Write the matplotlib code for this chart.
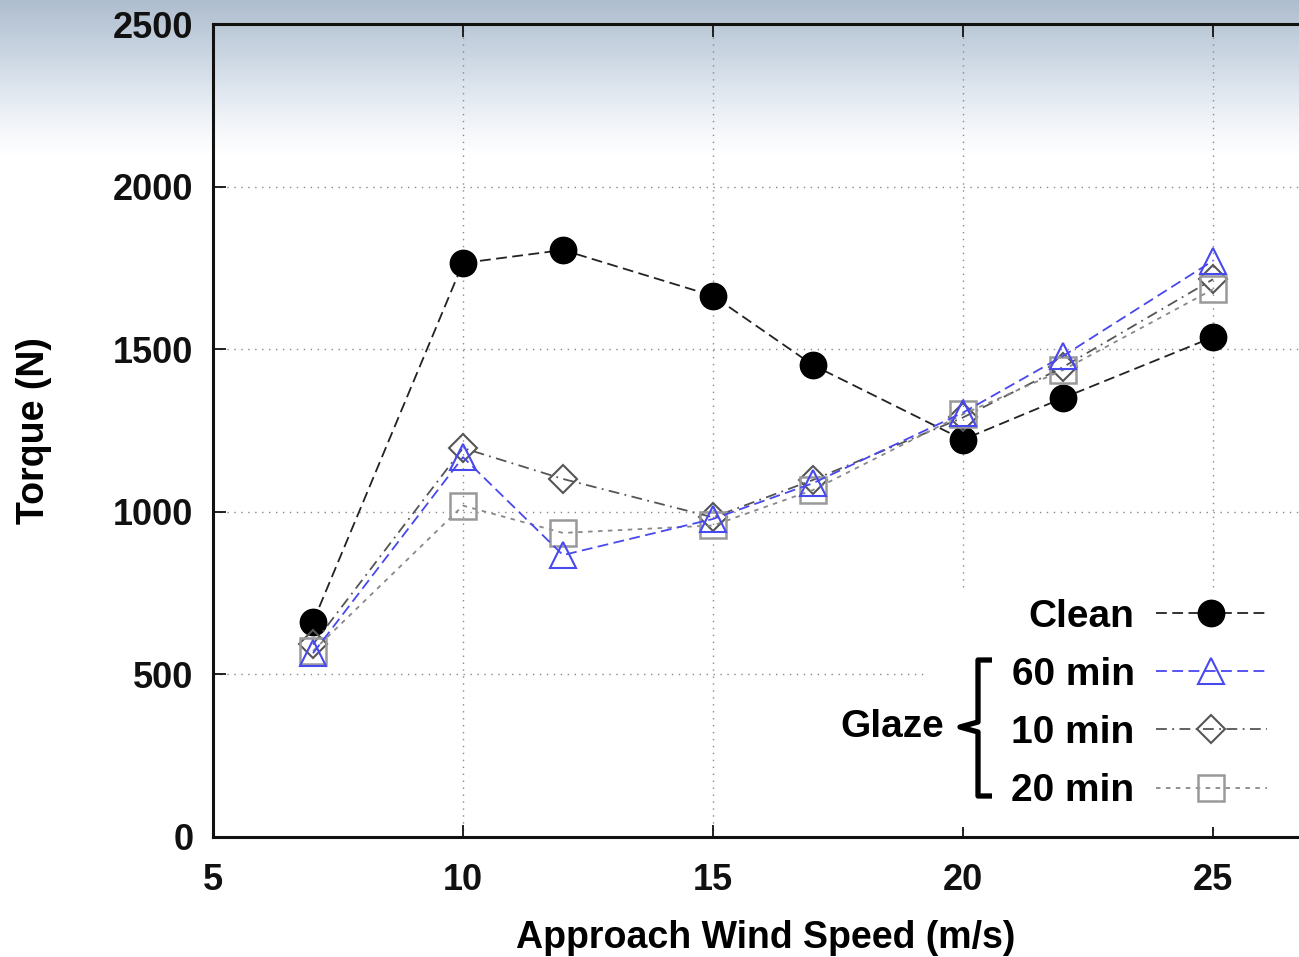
import matplotlib
matplotlib.use('Agg')
import matplotlib.pyplot as plt
import numpy as np
from matplotlib.colors import LinearSegmentedColormap
from matplotlib.lines import Line2D
from matplotlib.patches import Rectangle

# Torque vs approach wind speed, clean blade and three glaze-ice durations
speeds = [7, 10, 12, 15, 17, 20, 22, 25]
clean = [661, 1765, 1805, 1664, 1451, 1222, 1350, 1537]
glaze_60 = [565, 1168, 867, 978, 1088, 1305, 1479, 1772]
glaze_10 = [592, 1196, 1101, 983, 1098, 1290, 1445, 1715]
glaze_20 = [572, 1019, 935, 958, 1067, 1300, 1436, 1684]

x_ticks = [5, 10, 15, 20, 25]
y_ticks = [0, 500, 1000, 1500, 2000, 2500]

plt.rcParams['font.family'] = ['Liberation Sans', 'DejaVu Sans']
plt.rcParams['font.weight'] = 'bold'

W, H = 1299, 957
fig = plt.figure(figsize=(W / 100, H / 100), dpi=100)
fig.patch.set_facecolor('white')

# slide background: bluish band fading to white at the top
bg = fig.add_axes([0, 0, 1, 1], zorder=-10)
bg.axis('off')
grad = LinearSegmentedColormap.from_list(
    'band', [(0.0, '#aebdce'), (0.45, '#d3dde8'), (0.75, '#eef2f7'), (1.0, '#ffffff')])
ramp = np.linspace(0, 1, 256).reshape(-1, 1)
bg.imshow(ramp, cmap=grad, aspect='auto', extent=[0, 1, 1 - 155 / H, 1], origin='upper')
bg.set_xlim(0, 1)
bg.set_ylim(0, 1)

# plot box runs past the right edge of the page (x up to 27)
ax = fig.add_axes([213 / W, 120 / H, 1100 / W, 813 / H])
ax.patch.set_alpha(0)
ax.set_xlim(5, 27)
ax.set_ylim(0, 2500)
ax.set_xticks(x_ticks)
ax.set_yticks(y_ticks)
ax.set_axisbelow(True)
ax.grid(True, linestyle=(0, (1, 4)), color='#888888', linewidth=1.0)
for side in ['left', 'bottom', 'top']:
    ax.spines[side].set_linewidth(2.2)
    ax.spines[side].set_color('#111111')
ax.spines['right'].set_visible(False)
ax.tick_params(axis='both', direction='in', length=9, width=1.3, labelsize=26, colors='#111111')
ax.tick_params(axis='x', top=True, pad=19)
ax.tick_params(axis='y', pad=14)
for lbl in ax.get_xticklabels() + ax.get_yticklabels():
    lbl.set_fontweight('bold')

ax.set_xlabel('Approach Wind Speed (m/s)', fontsize=27, fontweight='bold')
ax.set_ylabel('Torque (N)', fontsize=27, fontweight='bold')
ax.xaxis.set_label_coords(0.502, -0.102)
ax.yaxis.set_label_coords(-0.146, 0.5)

# key area is blanked out over the grid
ax.add_patch(Rectangle((0.647, 0.012), 0.4, 0.294, transform=ax.transAxes,
                       facecolor='white', edgecolor='none', zorder=1))

blue = '#4848f0'
h_clean, = ax.plot(speeds, clean, color='#222222', lw=1.3, linestyle=(0, (6, 3)),
                   marker='o', ms=19, mfc='black', mec='black', zorder=3)
h_60, = ax.plot(speeds, glaze_60, color=blue, lw=1.3, linestyle=(0, (6, 3)),
                marker='^', ms=19, mfc='none', mec=blue, mew=1.5, zorder=5)
h_10, = ax.plot(speeds, glaze_10, color='#555555', lw=1.3, linestyle=(0, (6, 3, 1, 3)),
                marker='D', ms=14, mfc='none', mec='#555555', mew=1.5, zorder=4)
h_20, = ax.plot(speeds, glaze_20, color='#888888', lw=1.3, linestyle=(0, (2.5, 3)),
                marker='s', ms=19, mfc='none', mec='#999999', mew=1.8, zorder=4)

leg = ax.legend([h_clean, h_60, h_10, h_20], ['Clean', '60 min', '10 min', '20 min'],
                loc='center', bbox_to_anchor=(1139 / W, 1 - 704 / H),
                bbox_transform=fig.transFigure, frameon=False, markerfirst=False,
                numpoints=1, handlelength=2.85, handletextpad=0.55, labelspacing=0.57,
                borderpad=0, prop={'size': 28, 'weight': 'bold'})

fig.text(892 / W, 1 - 727 / H, 'Glaze', fontsize=28, fontweight='bold',
         ha='center', va='center')

# brace grouping the glaze durations
bx = np.array([992, 978, 978, 960, 978, 978, 992])
by = np.array([660, 660, 722, 727, 732, 796, 796])
fig.add_artist(Line2D(bx / W, 1 - by / H, transform=fig.transFigure,
                      color='black', lw=3.8, solid_joinstyle='round', solid_capstyle='butt'))

fig.savefig('out.png', dpi=100)
